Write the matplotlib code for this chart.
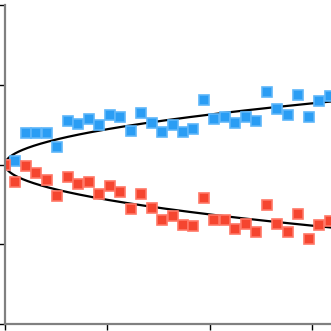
import numpy as np
import matplotlib
matplotlib.use("Agg")
import matplotlib.pyplot as plt

# pasos de tiempo y valores
steps = list(range(32))
dt = 1.0225
upper = [0.0, 0.05, 0.39, 0.39, 0.39, 0.225, 0.54, 0.51, 0.575, 0.49, 0.625,
         0.59, 0.425, 0.65, 0.525, 0.41, 0.5, 0.41, 0.44, 0.81, 0.575,
         0.6, 0.525, 0.6, 0.54, 0.91, 0.69, 0.625, 0.875, 0.6, 0.79, 0.86]
lower = [0.0, -0.225, -0.02, -0.11, -0.19, -0.4, -0.16, -0.25, -0.225, -0.375,
         -0.275, -0.35, -0.56, -0.375, -0.54, -0.69, -0.64, -0.76, -0.775,
         -0.425, -0.69, -0.7, -0.81, -0.75, -0.85, -0.51, -0.75, -0.85,
         -0.625, -0.94, -0.76, -0.71]
coef = 0.14  # envolvente +/- coef*sqrt(t)

t = np.array(steps) * dt
tt = np.linspace(0, 33, 400)

fig = plt.figure(figsize=(3.31, 3.31), dpi=100)
ax = fig.add_axes([5 / 331, 7 / 331, 326 / 331, 319 / 331])

ax.plot(tt, coef * np.sqrt(tt), color="black", lw=1.6, zorder=2)
ax.plot(tt, -coef * np.sqrt(tt), color="black", lw=1.6, zorder=2)

ax.plot(t, upper, "s", ms=6.5, color="#2a9df4", mec="#5db6fa", mew=1.2,
        zorder=3)
ax.plot(t, lower, "s", ms=6.5, color="#f5452f", mec="#ff7766", mew=1.2,
        zorder=3)

ax.set_xlim(0, 326 / 10.24)
ax.set_ylim(-2, 2)
ax.set_xticks([0, 10, 20, 30])
ax.set_yticks([-2, -1, 0, 1, 2])
ax.set_xticklabels([])
ax.set_yticklabels([])
ax.tick_params(direction="out", length=4, width=1, color="black")

for s in ["top", "right"]:
    ax.spines[s].set_visible(False)
for s in ["left", "bottom"]:
    ax.spines[s].set_color("#808080")
    ax.spines[s].set_linewidth(1.6)
    ax.spines[s].set_zorder(4)

fig.savefig("out.png", dpi=100)
